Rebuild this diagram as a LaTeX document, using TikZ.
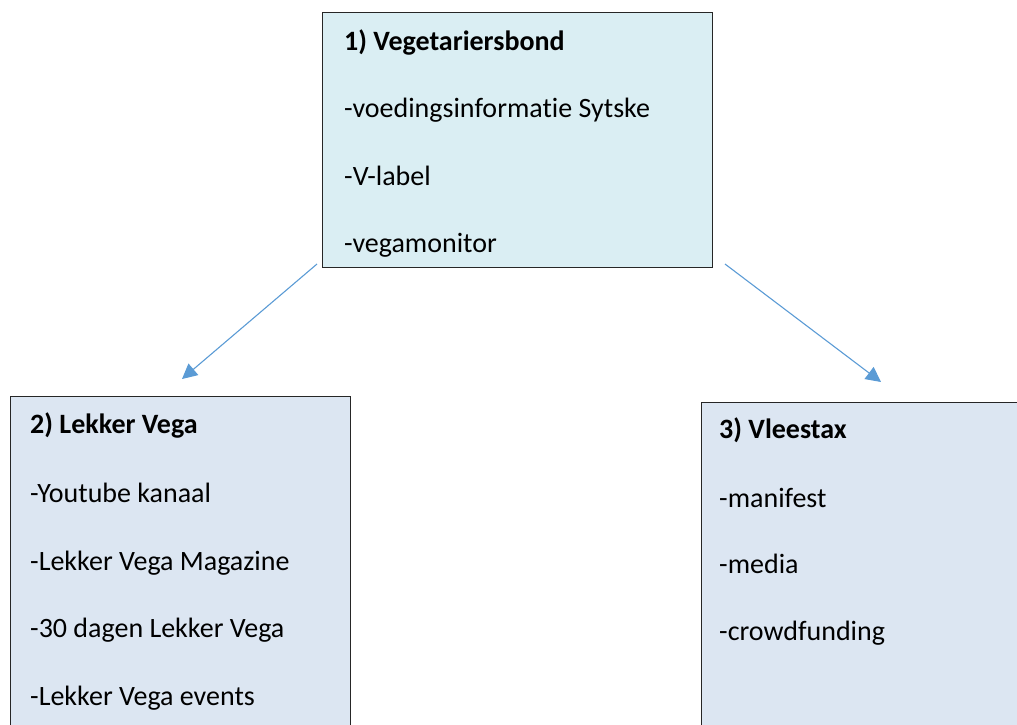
\documentclass[tikz,border=0pt]{standalone}
\usepackage{fontspec}
\setmainfont{Carlito}[Ligatures=CommonOff]
\usetikzlibrary{arrows.meta}
\definecolor{aquabox}{HTML}{DAEEF3}
\definecolor{bluebox}{HTML}{DCE6F2}
\definecolor{arrowblue}{HTML}{5B9BD5}
\begin{document}
\begin{tikzpicture}[x=1pt,y=-1pt,
  box/.style={draw=black!85, line width=1.1pt, anchor=north west, inner sep=0pt},
  txt/.style={anchor=base west, inner sep=0pt, font=\fontsize{28}{34}\selectfont},
  ttl/.style={anchor=base west, inner sep=0pt, font=\fontsize{28}{34}\selectfont\bfseries},
  conn/.style={draw=arrowblue, line width=1.1pt, -{Triangle[length=15pt,width=15pt]}}]
\useasboundingbox (0,0) rectangle (1017,724);
\clip (0,0) rectangle (1017,724);
% boxes
\node[box, fill=aquabox, minimum width=390pt, minimum height=255pt] (b1) at (322,12) {};
\node[box, fill=bluebox, minimum width=340pt, minimum height=350pt] (b2) at (10,396) {};
\node[box, fill=bluebox, minimum width=340pt, minimum height=350pt] (b3) at (701,402) {};
% texts box 1
\node[ttl] (t1a) at (344,50) {1) Vegetariersbond};
\node[txt] (t1b) at (344,117) {-voedingsinformatie Sytske};
\node[txt] (t1c) at (344,185) {-V-label};
\node[txt] (t1d) at (344,252) {-vegamonitor};
% texts box 2
\node[ttl] (t2a) at (30,433) {2) Lekker Vega};
\node[txt] (t2b) at (30,502) {-Youtube kanaal};
\node[txt] (t2c) at (30,570) {-Lekker Vega Magazine};
\node[txt] (t2d) at (30,637) {-30 dagen Lekker Vega};
\node[txt] (t2e) at (30,705) {-Lekker Vega events};
% texts box 3
\node[ttl] (t3a) at (719,438) {3) Vleestax};
\node[txt] (t3b) at (719,507) {-manifest};
\node[txt] (t3c) at (719,573) {-media};
\node[txt] (t3d) at (719,640) {-crowdfunding};
% connectors
\coordinate (a1s) at (317,264);
\coordinate (a1e) at (182,379);
\coordinate (a2s) at (725,264);
\coordinate (a2e) at (881,382);
\draw[conn] (a1s) -- (a1e);
\draw[conn] (a2s) -- (a2e);
\end{tikzpicture}
\end{document}
